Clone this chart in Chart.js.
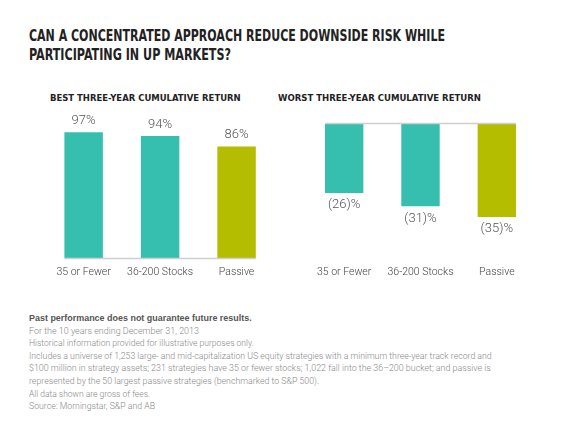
<!DOCTYPE html>
<html>
<head>
<meta charset="utf-8">
<script src="https://cdn.jsdelivr.net/npm/chart.js@4.4.1/dist/chart.umd.min.js"></script>
<style>
  html, body { margin: 0; padding: 0; background: #fff; }
  body { width: 580px; height: 436px; position: relative; overflow: hidden; }
  .txt { position: absolute; white-space: nowrap; transform-origin: 0 50%; }
  .title { font-family: "DejaVu Sans Condensed", "DejaVu Sans", sans-serif; font-weight: bold;
           font-size: 15.5px; line-height: 19px; color: #222; }
  .sub { font-family: "DejaVu Sans Condensed", "DejaVu Sans", sans-serif; font-weight: bold;
         font-size: 9.5px; line-height: 12px; color: #222; }
  .note { font-family: Roboto, "Liberation Sans", sans-serif; font-weight: 300;
          font-size: 9.5px; line-height: 12.6px; color: #888; left: 29px; }
  .note.b { font-family: "Liberation Sans", Arial, sans-serif; font-weight: bold; color: #555; }
  .box { position: absolute; }
</style>
</head>
<body>

<div class="txt title" style="left:29px; top:26.5px;" data-w="416">CAN A CONCENTRATED APPROACH REDUCE DOWNSIDE RISK WHILE</div>
<div class="txt title" style="left:29px; top:45.5px;" data-w="202">PARTICIPATING IN UP MARKETS?</div>

<div class="txt sub" style="left:50px; top:92px;" data-w="190.7">BEST THREE-YEAR CUMULATIVE RETURN</div>
<div class="txt sub" style="left:277.7px; top:92px;" data-w="203">WORST THREE-YEAR CUMULATIVE RETURN</div>

<div class="box" style="left:0; top:80px; width:290px; height:207px;"><canvas id="best"></canvas></div>
<div class="box" style="left:290px; top:80px; width:290px; height:207px;"><canvas id="worst"></canvas></div>

<div class="txt note b" style="top:312px;" data-w="222.7">Past performance does not guarantee future results.</div>
<div class="txt note" style="top:324.6px;" data-w="170">For the 10 years ending December 31, 2013</div>
<div class="txt note" style="top:337.2px;" data-w="224.7">Historical information provided for illustrative purposes only.</div>
<div class="txt note" style="top:349.8px;" data-w="462.7">Includes a universe of 1,253 large- and mid-capitalization US equity strategies with a minimum three-year track record and</div>
<div class="txt note" style="top:362.4px;" data-w="461.7">$100 million in strategy assets; 231 strategies have 35 or fewer stocks; 1,022 fall into the 36–200 bucket; and passive is</div>
<div class="txt note" style="top:375px;" data-w="290">represented by the 50 largest passive strategies (benchmarked to S&amp;P 500).</div>
<div class="txt note" style="top:387.6px;" data-w="121">All data shown are gross of fees.</div>
<div class="txt note" style="top:400.2px;" data-w="126">Source: Morningstar, S&amp;P and AB</div>

<script>
// chart data
var categories = ['35 or Fewer', '36-200 Stocks', 'Passive'];
var bestReturn = [97, 94, 86];
var worstReturn = [-26, -31, -35];
var barColors = ['#36bfaf', '#36bfaf', '#b5bd00'];

// squeeze each text line to the width it has in the picture
function fitText() {
  document.querySelectorAll('[data-w]').forEach(function(el) {
    el.style.transform = '';
    var w = el.getBoundingClientRect().width;
    var target = parseFloat(el.getAttribute('data-w'));
    if (w > 0) el.style.transform = 'scaleX(' + (target / w) + ')';
  });
}

// value labels + the thin zero line between first and last bar
var barDecor = {
  id: 'barDecor',
  afterDatasetsDraw: function(chart) {
    var ctx = chart.ctx;
    var bars = chart.getDatasetMeta(0).data;
    var yZero = chart.scales.y.getPixelForValue(0);
    var first = bars[0], last = bars[bars.length - 1];

    ctx.save();
    ctx.strokeStyle = '#cfcfcf';
    ctx.lineWidth = 1.5;
    ctx.beginPath();
    ctx.moveTo(first.x - first.width / 2, yZero);
    ctx.lineTo(last.x + last.width / 2, yZero);
    ctx.stroke();

    ctx.fillStyle = '#555';
    ctx.font = '300 13px Roboto, "Liberation Sans", sans-serif';
    ctx.textAlign = 'center';
    ctx.textBaseline = 'middle';
    var vals = chart.data.datasets[0].data;
    bars.forEach(function(bar, i) {
      var v = vals[i];
      if (v >= 0) {
        ctx.fillText(v + '%', bar.x, bar.y - 11.5);
      } else {
        ctx.fillText('(' + Math.abs(v) + ')%', bar.x, bar.y + 12);
      }
    });
    ctx.restore();
  }
};

function makeChart(id, values, yMin, yMax, pad) {
  return new Chart(document.getElementById(id), {
    type: 'bar',
    data: {
      labels: categories,
      datasets: [{
        data: values,
        backgroundColor: barColors,
        borderWidth: 0,
        barPercentage: 0.503,
        categoryPercentage: 1
      }]
    },
    options: {
      responsive: true,
      maintainAspectRatio: false,
      animation: false,
      layout: { padding: pad },
      plugins: { legend: { display: false }, tooltip: { enabled: false } },
      scales: {
        x: {
          grid: { display: false, drawTicks: false },
          border: { display: false },
          ticks: {
            padding: 8,
            color: '#444',
            font: { family: 'Roboto, "Liberation Sans", sans-serif', size: 10.5, weight: '300' }
          }
        },
        y: { display: false, min: yMin, max: yMax }
      }
    },
    plugins: [barDecor]
  });
}

makeChart('best', bestReturn, 0, 114, { top: 30, bottom: 0, left: 45.4, right: 15.2 });
makeChart('worst', worstReturn, -50.5, 0, { top: 43.5, bottom: 0, left: 16, right: 45 });

fitText();
window.addEventListener('load', fitText);
</script>
</body>
</html>
